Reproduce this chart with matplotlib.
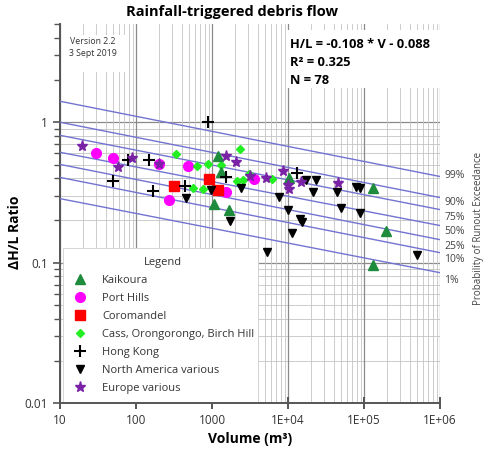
import matplotlib
matplotlib.use('Agg')
import matplotlib.pyplot as plt
from matplotlib.patches import Rectangle
from matplotlib.ticker import FixedLocator, FixedFormatter, LogLocator, NullFormatter

plt.rcParams['font.family'] = ['Open Sans', 'DejaVu Sans']

# ---------------- data ----------------
kaikoura_v = [1190, 1300, 1070, 1690, 10400, 130000, 195000, 130000]
kaikoura_hl = [0.574, 0.442, 0.264, 0.236, 0.402, 0.338, 0.168, 0.0965]

porthills_v = [29.8, 49.4, 203, 272, 488, 1528, 3570]
porthills_hl = [0.601, 0.553, 0.501, 0.279, 0.488, 0.321, 0.392]

coromandel_v = [313, 921, 1189]
coromandel_hl = [0.349, 0.394, 0.330]

cass_v = [336, 629, 878, 568, 755, 1313, 2336, 2133, 2582, 3069, 6067]
cass_hl = [0.594, 0.485, 0.501, 0.340, 0.337, 0.496, 0.645, 0.383, 0.385, 0.431, 0.392]

hongkong_v = [77.8, 50.3, 150, 166, 441, 894, 1506, 13000]
hongkong_hl = [0.542, 0.381, 0.542, 0.322, 0.354, 1.0, 0.410, 0.434]

namerica_v = [455, 962, 1715, 2400, 7500, 9850, 11290, 14600, 15280, 17000,
              23560, 21530, 5370, 44800, 49500, 79200, 87500, 88600, 498000]
namerica_hl = [0.291, 0.332, 0.197, 0.343, 0.294, 0.236, 0.164, 0.206, 0.195, 0.389,
               0.387, 0.318, 0.119, 0.318, 0.247, 0.348, 0.338, 0.226, 0.114]

europe_v = [19.7, 58.5, 89.4, 203, 1528, 2070, 3162, 5140, 8510, 10090, 10400, 14730, 45900]
europe_hl = [0.672, 0.483, 0.554, 0.501, 0.572, 0.518, 0.413, 0.398, 0.449, 0.357, 0.334, 0.373, 0.367]

# probability-of-exceedance lines (value at V=10 and at V=1E+06)
prob_labels = ['99%', '90%', '75%', '50%', '25%', '10%', '1%']
prob_at_10 = [1.41, 1.0, 0.807, 0.611, 0.501, 0.405, 0.286]
prob_at_1e6 = [0.411, 0.291, 0.239, 0.184, 0.146, 0.118, 0.085]
prob_label_y = [0.418, 0.267, 0.209, 0.166, 0.131, 0.105, 0.075]

x_ticks = [10, 100, 1000, 1e4, 1e5, 1e6]
x_tick_labels = ['10', '100', '1000', '1E+04', '1E+05', '1E+06']
y_ticks = [0.01, 0.1, 1]
y_tick_labels = ['0.01', '0.1', '1']

# ---------------- figure ----------------
W, H = 487, 453
fig = plt.figure(figsize=(W / 100, H / 100), dpi=100)
ax_l, ax_r, ax_t, ax_b = 60, 440, 24, 403.3
ax = fig.add_axes([ax_l / W, 1 - ax_b / H, (ax_r - ax_l) / W, (ax_b - ax_t) / H])
ax.set_xscale('log')
ax.set_yscale('log')
ax.set_xlim(10, 1e6)
ax.set_ylim(0.01, 5)


def px2ax(px, py):
    return (px - ax_l) / (ax_r - ax_l), (ax_b - py) / (ax_b - ax_t)


# grid
ax.xaxis.set_major_locator(FixedLocator(x_ticks))
ax.xaxis.set_major_formatter(FixedFormatter(x_tick_labels))
ax.xaxis.set_minor_locator(LogLocator(base=10, subs=range(2, 10)))
ax.xaxis.set_minor_formatter(NullFormatter())
ax.yaxis.set_major_locator(FixedLocator(y_ticks))
ax.yaxis.set_major_formatter(FixedFormatter(y_tick_labels))
ax.yaxis.set_minor_locator(LogLocator(base=10, subs=range(2, 10)))
ax.yaxis.set_minor_formatter(NullFormatter())

ax.grid(True, which='major', axis='x', color='#8a8a8a', lw=0.9, zorder=0)
ax.grid(True, which='minor', axis='x', color='#c4c4c4', lw=0.6, zorder=0)
ax.set_axisbelow(True)
ymaj = [t for t in ax.yaxis.get_majorticklocs() if 0.01 < t <= 1]
ymin = [t for t in ax.yaxis.get_minorticklocs() if 0.01 < t <= 1]
ax.hlines(ymaj, 10, 1e6, color='#8a8a8a', lw=0.9, zorder=0.5)
ax.hlines(ymin, 10, 1e6, color='#c4c4c4', lw=0.6, zorder=0.5)

for s in ['top', 'right']:
    ax.spines[s].set_visible(False)
for s in ['left', 'bottom']:
    ax.spines[s].set_color('#555555')
    ax.spines[s].set_linewidth(1.4)
ax.tick_params(axis='both', which='major', labelsize=8.5, labelcolor='#333333', color='#555555')
ax.tick_params(axis='x', which='major', direction='inout', length=8, width=1.4)
ax.tick_params(axis='x', which='minor', length=0)
ax.tick_params(axis='y', which='major', direction='out', length=5, width=1.2)
ax.tick_params(axis='y', which='minor', direction='out', length=4, width=1.0, color='#555555')

# white boxes
bx0, by0 = px2ax(62, 72)
bx1, by1 = px2ax(127, 35)
ax.add_patch(Rectangle((bx0, by0), bx1 - bx0, by1 - by0, transform=ax.transAxes,
                       facecolor='white', edgecolor='none', zorder=2))
ex0, ey0 = px2ax(287, 88)
ex1, ey1 = px2ax(440, 30)
ax.add_patch(Rectangle((ex0, ey0), ex1 - ex0, ey1 - ey0, transform=ax.transAxes,
                       facecolor='white', edgecolor='none', zorder=2))
lx0, ly0 = px2ax(63, 403)
lx1, ly1 = px2ax(258, 248)
ax.add_patch(Rectangle((lx0, ly0), lx1 - lx0, ly1 - ly0, transform=ax.transAxes,
                       facecolor='white', edgecolor='#d0d0d0', lw=0.6, zorder=2))

# probability lines
for a, b in zip(prob_at_10, prob_at_1e6):
    ax.plot([10, 1e6], [a, b], color='#7373d2', lw=1.0, zorder=3)

# data
ax.plot(kaikoura_v, kaikoura_hl, ls='none', marker='^', ms=7.5, color='#1e8c3c', label='Kaikoura', zorder=5)
ax.plot(porthills_v, porthills_hl, ls='none', marker='o', ms=7, color='#ff00ff', label='Port Hills', zorder=4)
ax.plot(coromandel_v, coromandel_hl, ls='none', marker='s', ms=6.5, color='#ff0000', label='Coromandel', zorder=4)
ax.plot(cass_v, cass_hl, ls='none', marker='D', ms=4.2, color='#22ee22', label='Cass, Orongorongo, Birch Hill', zorder=4)
ax.plot(hongkong_v, hongkong_hl, ls='none', marker='+', ms=8, mew=1.5, color='black', label='Hong Kong', zorder=5)
ax.plot(namerica_v, namerica_hl, ls='none', marker='v', ms=5.8, color='black', label='North America various', zorder=4)
ax.plot(europe_v, europe_hl, ls='none', marker='*', ms=8, color='#7a22a6', label='Europe various', zorder=5)

leg = ax.legend(loc='upper left', bbox_to_anchor=px2ax(72, 257), title='Legend',
                frameon=False, fontsize=8, title_fontsize=8, labelspacing=0.63,
                handletextpad=1.3, borderaxespad=0, handlelength=1.4,
                borderpad=0)
leg.set_zorder(6)
for t in leg.get_texts():
    t.set_color('#333333')
leg.get_title().set_color('#333333')

# texts
ax.text(*px2ax(93, 42), 'Version 2.2', transform=ax.transAxes, ha='center', va='center',
        fontsize=6.3, color='#333333', zorder=6)
ax.text(*px2ax(93, 53), '3 Sept 2019', transform=ax.transAxes, ha='center', va='center',
        fontsize=6.3, color='#333333', zorder=6)
eq_lines = ['H/L = -0.108 * V - 0.088', 'R² = 0.325', 'N = 78']
for t, py in zip(eq_lines, [45, 63, 80]):
    ax.text(*px2ax(290, py), t, transform=ax.transAxes, ha='left', va='center',
            fontsize=9.3, fontweight='bold', color='black', zorder=6)

for lab, yv in zip(prob_labels, prob_label_y):
    ax.annotate(lab, xy=(1, yv), xycoords=('axes fraction', 'data'), xytext=(3, 0),
                textcoords='offset points', ha='left', va='center', fontsize=7.5,
                color='#444444', annotation_clip=False)
fig.text(479 / W, 1 - 228 / H, 'Probability of Runout Exceedance', rotation=90,
         ha='center', va='center', fontsize=7, color='#444444')

fig.text(232 / W, 1 - 12 / H, 'Rainfall-triggered debris flow', ha='center', va='center',
         fontsize=10.5, fontweight='bold')
ax.set_xlabel('Volume (m³)', fontsize=10, fontweight='bold', labelpad=4)
ax.set_ylabel('ΔH/L Ratio', fontsize=10, fontweight='bold')
ax.yaxis.set_label_coords(-(ax_l - 22) / (ax_r - ax_l), 0.45)

fig.savefig('out.png', dpi=100)
